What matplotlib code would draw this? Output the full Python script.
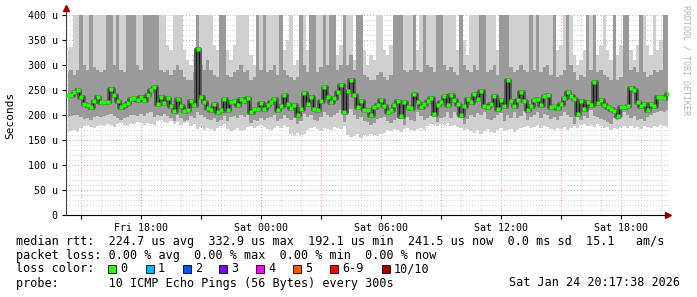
import numpy as np
import pandas as pd
import matplotlib
matplotlib.use("Agg")
import matplotlib.pyplot as plt
import matplotlib.dates as mdates
from matplotlib.patches import Rectangle
from matplotlib.ticker import FixedLocator, MultipleLocator, FuncFormatter

# 10 minute steps, Fri 14:20 .. Sat 20:20 (values in microseconds)
times = pd.date_range("2026-01-23 14:20", periods=181, freq="10min")

median = [
    240, 240, 245, 250, 235, 222, 220, 216, 228, 236,
    226, 225, 226, 252, 240, 228, 216, 220, 223, 232,
    233, 230, 236, 230, 240, 250, 255, 222, 235, 224,
    233, 218, 208, 232, 218, 208, 210, 228, 219, 332,
    235, 225, 214, 210, 221, 205,
    210, 232, 210, 225, 228, 220, 231, 228, 233, 205,
    212, 211, 223, 212, 220, 225, 232, 210, 218, 240,
    222, 213, 220, 200, 211, 243, 221, 235, 212, 210,
    228, 255, 235, 226, 233, 246, 260, 205, 247, 270,
    240, 215, 227, 210, 210, 200,
    216, 220, 230, 217, 205, 210, 220, 227, 198, 225,
    215, 213, 242, 226, 215, 222, 228, 233, 202, 220,
    225, 238, 220, 240, 229, 222, 200, 218, 231, 225,
    242, 231, 247, 218, 215, 222, 238, 211, 229, 218,
    269, 227, 217, 229, 245, 227,
    210, 218, 229, 231, 220, 238, 240, 215, 217, 213,
    222, 233, 245, 238, 231, 202, 227, 211, 225, 220,
    265, 224, 229, 220, 215, 211, 207, 198, 215, 215,
    218, 253, 249, 225, 217, 222, 209, 222, 217, 235,
    235, 233, 242,
]

# smoke: min ping, 3rd ping, 8th ping, max ping (420 = off the top)
ping_min = [
    165, 168, 170, 166, 175, 178, 180, 176, 174, 179,
    181, 178, 183, 180, 176, 182, 184, 180, 178, 183,
    182, 186, 184, 180, 185, 183, 181, 188, 190, 186,
    184, 189, 182, 186, 180, 184, 187, 178, 182, 172,
    176, 170, 174, 172, 168, 175,
    178, 182, 172, 168, 170, 174, 168, 171, 176, 178,
    175, 179, 180, 176, 172, 170, 175, 178, 174, 180,
    176, 162, 158, 165, 160, 163, 170, 174, 176, 172,
    168, 175, 172, 170, 176, 174, 172, 178, 160, 156,
    158, 162, 155, 160, 158, 162,
    160, 158, 162, 165, 170, 168, 172, 170, 166, 172,
    174, 170, 168, 172, 175, 171, 178, 182, 180, 178,
    182, 180, 184, 178, 180, 176, 174, 170, 172, 168,
    165, 170, 163, 168, 172, 166, 164, 170, 175, 168,
    170, 172, 166, 170, 174, 176,
    178, 175, 176, 180, 174, 178, 176, 172, 170, 174,
    172, 176, 170, 174, 178, 175, 180, 182, 178, 180,
    176, 182, 178, 174, 176, 170, 174, 172, 176, 178,
    175, 178, 174, 176, 172, 178, 176, 174, 178, 176,
    180, 178, 176,
]
ping_lo = [
    195, 197, 199, 200, 196, 192, 194, 190, 196, 198,
    195, 197, 199, 202, 198, 194, 190, 193, 196, 199,
    200, 198, 201, 198, 203, 205, 196, 200, 197, 202,
    198, 193, 188, 199, 194, 188, 190, 197, 193, 205,
    200, 196, 192, 190, 194, 186,
    190, 198, 188, 195, 197, 193, 199, 196, 200, 185,
    190, 188, 194, 190, 194, 196, 199, 188, 192, 200,
    194, 190, 193, 182, 188, 202, 195, 200, 190, 188,
    196, 205, 200, 195, 199, 204, 210, 186, 204, 212,
    200, 192, 196, 188, 186, 180,
    184, 192, 194, 196, 188, 184, 190, 193, 196, 180,
    195, 190, 188, 205, 198, 190, 194, 198, 200, 186,
    194, 196, 205, 194, 206, 200, 196, 182, 192, 200,
    196, 204, 200, 205, 192, 190, 194, 200, 204, 188,
    200, 194, 205, 194, 198, 208,
    190, 196, 200, 205, 194, 202, 200, 192, 196, 190,
    198, 205, 200, 196, 182, 200, 190, 198, 194, 210,
    198, 196, 192, 190, 186, 182, 194, 190, 196, 206,
    200, 194, 198, 190, 192, 188, 196, 200, 204, 206,
    208, 205, 210,
]
ping_hi = [
    285, 290, 280, 290, 420, 300, 290, 420, 295, 290,
    285, 290, 420, 420, 300, 420, 290, 285, 420, 420,
    420, 300, 290, 420, 420, 420, 420, 420, 290, 285,
    290, 280, 290, 300, 290, 275, 270, 270, 285, 420,
    300, 290, 310, 290, 280, 275,
    420, 420, 280, 275, 285, 290, 300, 285, 290, 270,
    275, 420, 290, 420, 285, 290, 300, 280, 420, 290,
    280, 275, 270, 275, 420, 300, 285, 420, 420, 285,
    295, 420, 300, 420, 420, 290, 300, 420, 300, 320,
    290, 420, 420, 280, 275, 270,
    270, 280, 285, 275, 270, 280, 420, 420, 420, 290,
    285, 290, 420, 290, 285, 420, 300, 295, 285, 420,
    420, 300, 290, 295, 285, 280, 420, 300, 290, 285,
    300, 290, 420, 420, 285, 290, 300, 280, 420, 420,
    420, 295, 285, 290, 300, 290,
    285, 420, 290, 420, 285, 295, 300, 280, 420, 275,
    280, 290, 420, 300, 285, 270, 280, 275, 420, 290,
    420, 285, 290, 280, 275, 270, 420, 270, 275, 420,
    420, 290, 295, 285, 420, 285, 275, 280, 290, 285,
    290, 420, 420,
]
ping_max = [
    330, 335, 420, 420, 420, 420, 420, 420, 420, 420,
    420, 420, 420, 420, 420, 380, 420, 420, 350, 330,
    420, 420, 420, 420, 420, 420, 420, 420, 420, 400,
    340, 330, 420, 420, 420, 330, 310, 300, 320, 420,
    420, 420, 420, 420, 340, 330,
    420, 420, 330, 310, 340, 420, 420, 420, 420, 320,
    300, 420, 420, 420, 420, 420, 420, 420, 420, 330,
    350, 420, 300, 310, 420, 420, 330, 420, 420, 420,
    420, 420, 420, 420, 420, 320, 340, 420, 420, 420,
    310, 420, 420, 330, 300, 320,
    310, 420, 420, 330, 320, 340, 420, 420, 420, 420,
    420, 420, 420, 330, 420, 420, 420, 420, 420, 420,
    420, 420, 420, 420, 420, 330, 420, 350, 320, 420,
    420, 420, 420, 420, 420, 420, 420, 330, 420, 420,
    420, 420, 420, 420, 420, 420,
    420, 420, 420, 420, 420, 420, 420, 420, 420, 330,
    340, 420, 420, 420, 320, 300, 310, 330, 420, 420,
    420, 320, 340, 420, 330, 310, 420, 320, 340, 420,
    420, 330, 310, 340, 420, 420, 340, 320, 420, 330, 350,
    420, 420,
]

ytick_vals = [0, 50, 100, 150, 200, 250, 300, 350, 400]
ytick_labels = ["0", "50 u", "100 u", "150 u", "200 u", "250 u", "300 u", "350 u", "400 u"]

loss_labels = ["0", "1", "2", "3", "4", "5", "6-9", "10/10"]
loss_colors = ["#26ff00", "#00b8ff", "#0059ff", "#7e00ff", "#ff00ff", "#ff5500", "#ff0000", "#a10000"]
loss_x = [108, 146, 183, 219, 256, 293, 330, 382]

MONO = "DejaVu Sans Mono"
W, H = 697, 297

fig = plt.figure(figsize=(W / 100, H / 100), dpi=100)
fig.patch.set_facecolor("white")
ax = fig.add_axes([66 / W, 82 / H, 602 / W, 200 / H])

t = times

# smoke
ax.fill_between(t, ping_min, ping_max, step="mid", color="#d0d0d0", lw=0, zorder=2)
ax.fill_between(t, ping_lo, ping_hi, step="mid", color="#9a9a9a", lw=0, zorder=3)
ax.step(t, median, where="mid", color="#5c5c5c", lw=3.5, solid_joinstyle="round",
        solid_capstyle="butt", zorder=4)
ax.step(t, median, where="mid", color="#1a1a1a", lw=0.9, zorder=5)
ax.plot(t, median, ls="none", marker="s", ms=2.4, mec="none", color="#26ff00", zorder=6)

ax.set_ylim(0, 400)
ax.set_xlim(pd.Timestamp("2026-01-23 14:15"), pd.Timestamp("2026-01-24 20:21"))

# grid
ax.yaxis.set_major_locator(FixedLocator(ytick_vals))
ax.yaxis.set_minor_locator(MultipleLocator(10))
ax.set_yticklabels(ytick_labels)
ax.xaxis.set_major_locator(mdates.HourLocator(byhour=range(0, 24, 3)))
ax.xaxis.set_minor_locator(mdates.HourLocator())
ax.xaxis.set_major_formatter(FuncFormatter(
    lambda v, p: mdates.num2date(v).strftime("%a %H:%M") if mdates.num2date(v).hour % 6 == 0 else ""))
ax.grid(True, which="minor", color="#cfcfcf", ls=(0, (1, 2)), lw=0.7, zorder=1)
ax.grid(True, which="major", color="#e39a9a", ls=(0, (1, 2)), lw=0.7, zorder=1)
ax.set_axisbelow(True)

for s in ["top", "right"]:
    ax.spines[s].set_visible(False)
ax.spines["left"].set_color("#444444")
ax.spines["bottom"].set_color("black")
ax.tick_params(axis="both", which="major", length=3, labelsize=7.2, pad=3)
ax.tick_params(axis="both", which="minor", length=0)
for lab in ax.get_xticklabels() + ax.get_yticklabels():
    lab.set_family(MONO)

# axis arrows
ax.plot([0, 0], [1.0, 1.035], transform=ax.transAxes, color="#444444", lw=0.8, clip_on=False)
ax.plot([0], [1.035], transform=ax.transAxes, marker="^", color="#a00000", ms=4, clip_on=False)
ax.plot([1.0], [0], transform=ax.transAxes, marker=">", color="#a00000", ms=4, clip_on=False)

fig.text(10 / W, 1 - 115 / H, "Seconds", rotation=90, family=MONO, size=8, ha="center", va="center")
fig.text(686 / W, 1 - 5 / H, "RRDTOOL / TOBI OETIKER", rotation=270, family=MONO, size=6,
         color="#b4b4b4", ha="center", va="top")

# legend lines
def fy(y):
    return 1 - y / H

fig.text(16 / W, fy(241), "median rtt:  224.7 us avg  332.9 us max  192.1 us min  241.5 us now  0.0 ms sd  15.1   am/s",
         family=MONO, size=8.5, va="center")
fig.text(16 / W, fy(255), "packet loss: 0.00 % avg  0.00 % max  0.00 % min  0.00 % now",
         family=MONO, size=8.5, va="center")
fig.text(16 / W, fy(269), "loss color:", family=MONO, size=8.5, va="center")
for lx, lc, ll in zip(loss_x, loss_colors, loss_labels):
    fig.patches.append(Rectangle((lx / W, fy(273)), 8 / W, 8 / H, transform=fig.transFigure,
                                 facecolor=lc, edgecolor="black", lw=0.6))
    fig.text((lx + 12) / W, fy(269), ll, family=MONO, size=8.5, va="center")
fig.text(16 / W, fy(283), "probe:       10 ICMP Echo Pings (56 Bytes) every 300s",
         family=MONO, size=8.5, va="center")
fig.text(680 / W, fy(283), "Sat Jan 24 20:17:38 2026", family=MONO, size=8.5, va="center", ha="right")

fig.savefig("out.png", dpi=100, facecolor="white")
